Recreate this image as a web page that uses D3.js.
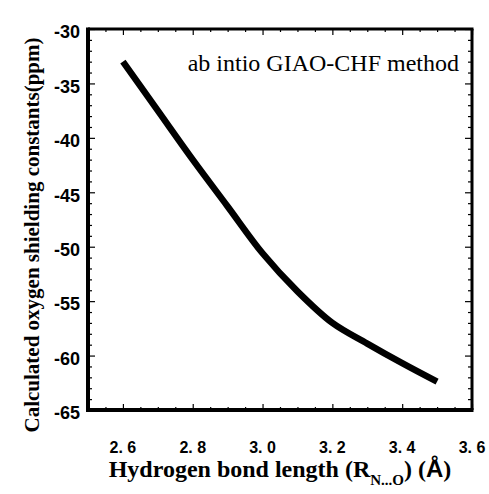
<!DOCTYPE html>
<html><head><meta charset="utf-8">
<script src="https://cdn.jsdelivr.net/npm/d3@7"></script>
<style>body{margin:0;background:#fff}svg{display:block}</style>
</head><body>
<script>
const bondLength = [2.6, 2.7, 2.8, 2.9, 3.0, 3.1, 3.2, 3.3, 3.4, 3.5];
const shielding = [-33.0, -37.5, -42.0, -46.3, -50.6, -54.1, -57.0, -58.9, -60.7, -62.4];
const xTicks = [2.6, 2.8, 3.0, 3.2, 3.4, 3.6];
const xTickLabels = ["2. 6", "2. 8", "3. 0", "3. 2", "3. 4", "3. 6"];
const yTicks = [-30, -35, -40, -45, -50, -55, -60, -65];

const W = 489, H = 494;
const L = 88, R = 472, T = 29, B = 410;
const svg = d3.select("body").append("svg").attr("width", W).attr("height", H);

const x = d3.scaleLinear().domain([2.5, 3.6]).range([L, R]);
const y = d3.scaleLinear().domain([-65, -30]).range([B, T]);

const xMinor = d3.range(2.55, 3.6, 0.05).filter(v => !xTicks.some(t => Math.abs(t - v) < 1e-6));
const yMinor = d3.range(-64, -30, 1).filter(v => v % 5 !== 0);

const g = svg.append("g");
function ax(gen, pos, vals, size) {
  g.append("g").attr("transform", pos)
    .call(gen.tickValues(vals).tickSize(size).tickFormat(""))
    .call(a => a.select(".domain").remove());
}
ax(d3.axisBottom(x), `translate(0,${B})`, xTicks, -6);
ax(d3.axisBottom(x), `translate(0,${B})`, xMinor, -3);
ax(d3.axisTop(x), `translate(0,${T})`, xTicks, -6);
ax(d3.axisTop(x), `translate(0,${T})`, xMinor, -3);
ax(d3.axisLeft(y), `translate(${L},0)`, yTicks, -7);
ax(d3.axisLeft(y), `translate(${L},0)`, yMinor, -4);
ax(d3.axisRight(y), `translate(${R},0)`, yTicks, -7);
ax(d3.axisRight(y), `translate(${R},0)`, yMinor, -4);
g.selectAll(".tick line").attr("stroke", "#000").attr("stroke-width", 1.2);

// frame
svg.append("line").attr("x1", L).attr("x2", L).attr("y1", T - 1.5).attr("y2", B + 2).attr("stroke", "#000").attr("stroke-width", 4);
svg.append("line").attr("x1", L - 2).attr("x2", R + 1.5).attr("y1", B).attr("y2", B).attr("stroke", "#000").attr("stroke-width", 4);
svg.append("line").attr("x1", L).attr("x2", R + 1.5).attr("y1", T).attr("y2", T).attr("stroke", "#000").attr("stroke-width", 3);
svg.append("line").attr("x1", R).attr("x2", R).attr("y1", T).attr("y2", B).attr("stroke", "#000").attr("stroke-width", 3);

// tick labels
svg.append("g").selectAll("text").data(xTicks).join("text")
  .attr("x", d => x(d)).attr("y", 453)
  .attr("text-anchor", "middle")
  .attr("font-family", "'Liberation Sans', Arial, sans-serif").attr("font-weight", "bold").attr("font-size", 16)
  .style("white-space", "pre")
  .text((d, i) => xTickLabels[i]);
svg.append("g").selectAll("text").data(yTicks).join("text")
  .attr("x", 80).attr("y", d => y(d) + 3).attr("dy", "0.35em")
  .attr("text-anchor", "end")
  .attr("font-family", "'Liberation Sans', Arial, sans-serif").attr("font-weight", "bold").attr("font-size", 18)
  .text(d => d);

// curve
const line = d3.line().x((d, i) => x(bondLength[i])).y(d => y(d)).curve(d3.curveCatmullRom.alpha(0.5));
svg.append("path").datum(shielding).attr("d", line)
  .attr("fill", "none").attr("stroke", "#000").attr("stroke-width", 6.5).attr("stroke-linecap", "butt");

// annotation
svg.append("text").attr("x", 459).attr("y", 71).attr("text-anchor", "end")
  .attr("font-family", "'Liberation Serif', 'Times New Roman', serif").attr("font-size", 24)
  .text("ab intio GIAO-CHF method");

// y title
svg.append("text").attr("transform", "translate(39,235) rotate(-90)").attr("text-anchor", "middle")
  .attr("font-family", "'Liberation Serif', 'Times New Roman', serif").attr("font-weight", "bold").attr("font-size", 21)
  .text("Calculated oxygen shielding constants(ppm)");

// x title
const xt = svg.append("text").attr("x", 280).attr("y", 477).attr("text-anchor", "middle")
  .attr("font-family", "'Liberation Serif', 'Times New Roman', serif").attr("font-weight", "bold").attr("font-size", 24);
xt.append("tspan").text("Hydrogen bond length (R");
xt.append("tspan").attr("font-size", 15).attr("dy", 8).text("N...O");
xt.append("tspan").attr("dy", -8).text(") (");
xt.append("tspan").attr("font-family", "'Liberation Sans', Arial, sans-serif").text("Å");
xt.append("tspan").text(")");
</script>
</body></html>
